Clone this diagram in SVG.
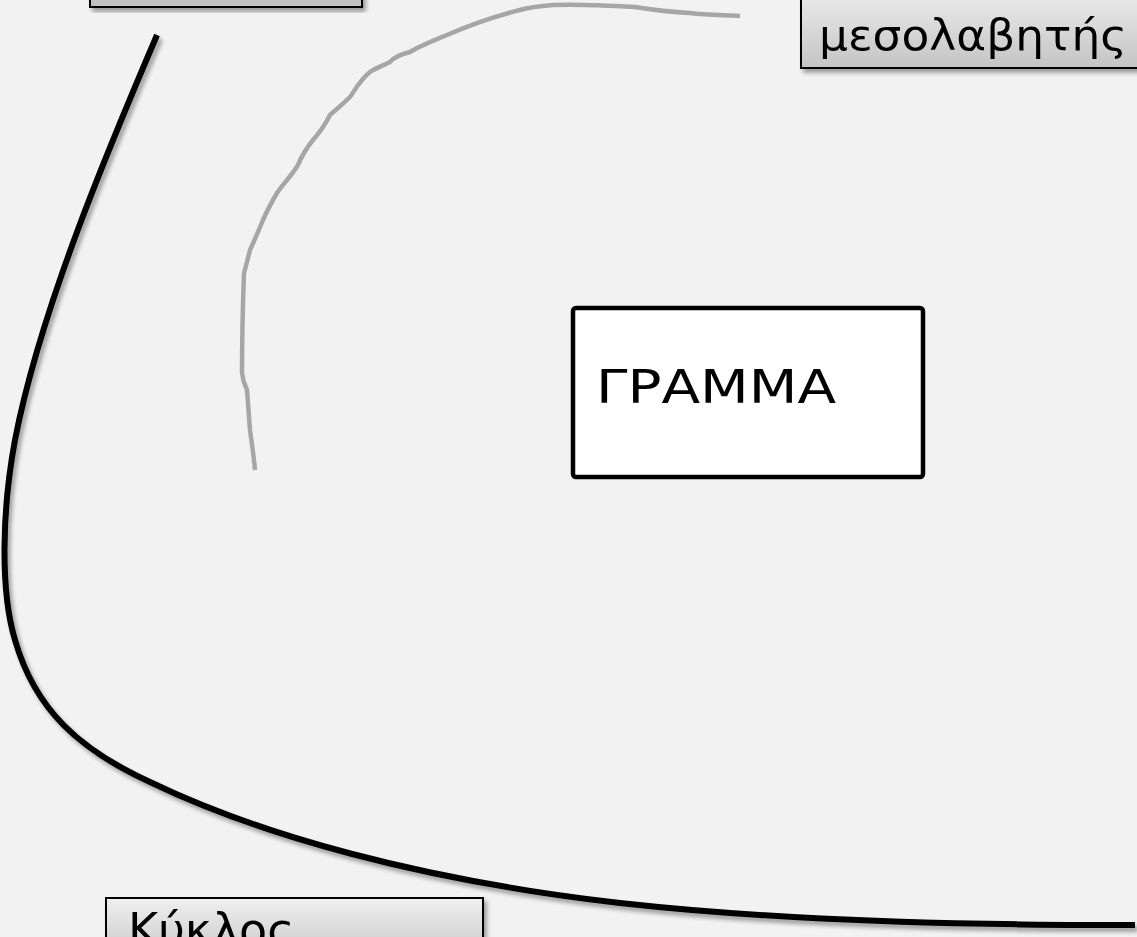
<svg xmlns="http://www.w3.org/2000/svg" width="1137" height="937" viewBox="0 0 1137 937">
<defs>
<linearGradient id="gBox" x1="0" y1="0" x2="0" y2="1">
<stop offset="0" stop-color="#f2f2f2"/>
<stop offset="1" stop-color="#c4c4c4"/>
</linearGradient>
<linearGradient id="gBox2" x1="0" y1="0" x2="0" y2="1">
<stop offset="0" stop-color="#f0f0f0"/>
<stop offset="1" stop-color="#c8c8c8"/>
</linearGradient>
<filter id="sh" x="-10%" y="-10%" width="130%" height="130%">
<feGaussianBlur in="SourceAlpha" stdDeviation="2"/>
<feOffset dx="3" dy="4" result="b"/>
<feComponentTransfer><feFuncA type="linear" slope="0.35"/></feComponentTransfer>
<feMerge><feMergeNode/><feMergeNode in="SourceGraphic"/></feMerge>
</filter>
</defs>
<style>
.lbl{font-family:"DejaVu Sans","Liberation Sans",sans-serif;fill:#000;}
.box{stroke:#000;stroke-width:2;}
</style>
<rect x="0" y="0" width="1137" height="937" fill="#f2f2f2"/>
<g id="connectors" fill="none" stroke-linecap="butt" stroke-linejoin="round">
<path filter="url(#sh)" stroke="#000" stroke-width="6" d="M157,35 C110,145 40,310 15,440 C2,510 0,590 15,640 C35,710 80,750 150,782 C260,835 420,880 620,903 C800,923 1000,925 1135,925"/>
<path stroke="#a6a6a6" stroke-width="4.5" d="M740,16 C720,15 705,15 690,13 C670,12 660,11 635,7 C600,5 575,4 553,5 C540,6 530,7 520,10 C500,15 470,25 447,35 C430,42 420,46 410,52 C398,55 393,58 390,62 C380,67 372,70 370,72 C360,80 355,90 350,97 C340,107 335,110 330,115 C325,125 320,132 313,140 C305,150 300,160 298,165 C290,178 282,185 277,193 C270,205 266,213 263,220 C257,235 253,243 250,250 C248,258 246,266 244,273 C243,300 242,340 242,373 C243,382 245,386 247,390 C248,405 249,418 250,430 C252,445 254,458 255,470"/>
</g>
<g id="node-top-left" filter="url(#sh)">
<rect class="box" x="90" y="-20" width="272" height="27" fill="#c2c2c2"/>
</g>
<g id="node-mesolavitis" filter="url(#sh)">
<rect class="box" x="801" y="-20" width="350" height="88" fill="url(#gBox)"/>
<text class="lbl" x="819" y="50" font-size="42" textLength="308" lengthAdjust="spacingAndGlyphs">μεσολαβητής</text>
</g>
<g id="node-gramma">
<rect x="573" y="308" width="350" height="169" rx="3" fill="#ffffff" stroke="#000" stroke-width="4.5"/>
<text class="lbl" x="596" y="403" font-size="46" textLength="240" lengthAdjust="spacingAndGlyphs">ΓΡΑΜΜΑ</text>
</g>
<g id="node-kyklos" filter="url(#sh)">
<rect class="box" x="106" y="898" width="377" height="60" fill="url(#gBox2)"/>
<text class="lbl" x="128" y="946" font-size="46">Κύκλος</text>
</g>
</svg>
